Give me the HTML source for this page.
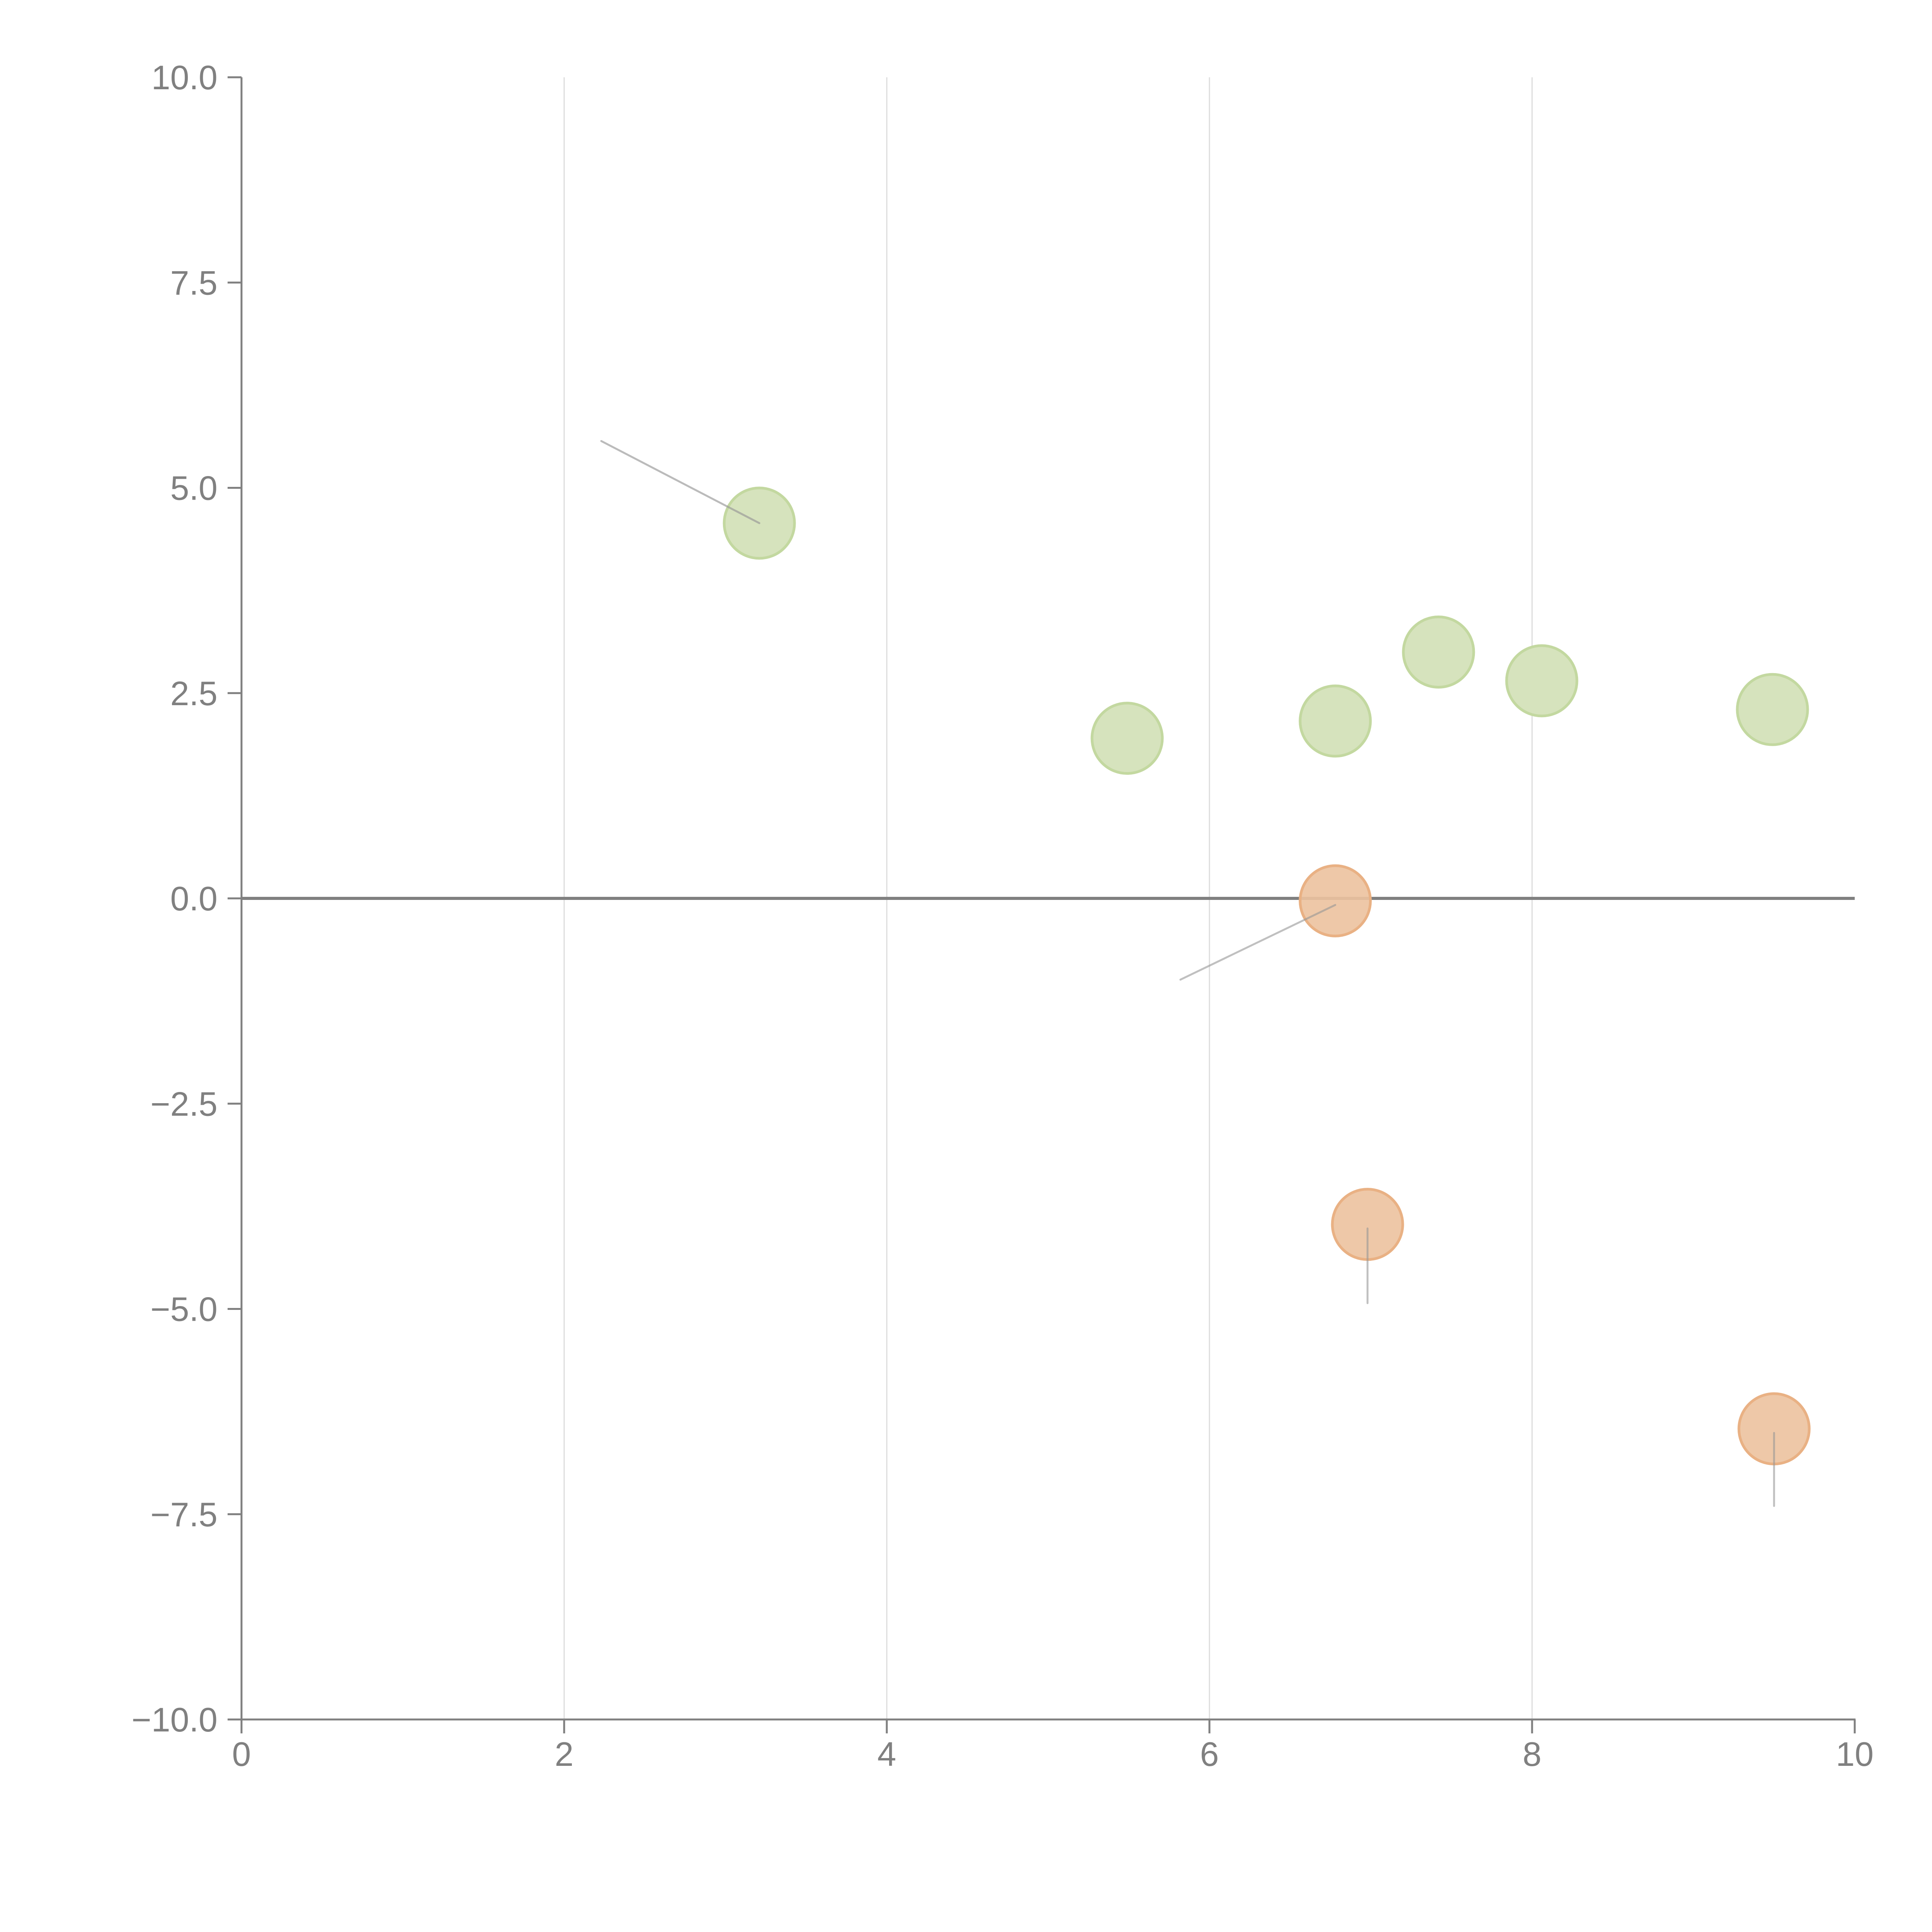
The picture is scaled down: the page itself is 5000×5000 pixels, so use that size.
<!DOCTYPE html>
<html><head><meta charset="utf-8">
<style>
html,body{margin:0;padding:0;background:#fff;}
svg{display:block;}
text{font-family:"Liberation Sans",Arial,sans-serif;}
</style></head>
<body>
<svg id="chart" width="5000" height="5000" viewBox="0 0 5000 5000" xmlns="http://www.w3.org/2000/svg">
<rect width="5000" height="5000" fill="#fff"/>
<g id="grid"></g>
<g id="labels"></g>
<g id="marks"></g>
<g id="axes"></g>
</svg>
<script>
const xTicks = [0, 2, 4, 6, 8, 10];
const xTickLabels = ["0", "2", "4", "6", "8", "10"];
const yTicks = [10, 7.5, 5, 2.5, 0, -2.5, -5, -7.5, -10];
const yTickLabels = ["10.0", "7.5", "5.0", "2.5", "0.0", "\u22122.5", "\u22125.0", "\u22127.5", "\u221210.0"];
const greenX = [3.21, 5.49, 6.78, 7.42, 8.06, 9.49];
const greenY = [4.57, 1.95, 2.16, 3.00, 2.65, 2.30];
const greenLabelX = [2.23, 5.55, 6.95, 7.46, 8.25, 9.30];
const greenLabelY = [5.57, 2.35, 1.85, 3.39, 2.85, 2.10];
const orangeX = [6.78, 6.98, 9.50];
const orangeY = [-0.03, -3.97, -6.46];
const orangeLabelX = [5.82, 6.98, 9.50];
const orangeLabelY = [-0.99, -4.93, -7.40];

const NS = "http://www.w3.org/2000/svg";
const X0 = 625, X1 = 4800, Y0 = 4450, Y1 = 200;
function sx(v){ return X0 + (v - 0) / 10 * (X1 - X0); }
function sy(v){ return Y0 - (v + 10) / 20 * (Y0 - Y1); }
function mk(tag, attrs, parent){
  const el = document.createElementNS(NS, tag);
  for (const k in attrs) el.setAttribute(k, attrs[k]);
  parent.appendChild(el);
  return el;
}
const grid = document.getElementById("grid");
const labels = document.getElementById("labels");
const marks = document.getElementById("marks");
const axes = document.getElementById("axes");

xTicks.forEach(function(t){
  if (t === 0 || t === 10) return;
  const l = mk("line", {x1: sx(t), x2: sx(t), y1: Y1, y2: Y0, stroke: "#dcdcdc", "stroke-width": 3}, grid);
  
  
});

const zl = mk("line", {x1: X0, x2: X1, y1: sy(0), y2: sy(0), stroke: "#808080", "stroke-width": 8}, marks);



function connector(px, py, lx, ly, color, name){
  const l = mk("line", {x1: sx(px), y1: sy(py), x2: sx(lx), y2: sy(ly), stroke: color, "stroke-width": 5, "stroke-linecap": "round"}, marks);
  
  
}
function label(lx, ly, name){
  const t = mk("text", {x: sx(lx), y: sy(ly), fill: "#ffffff", "font-size": 84, "text-anchor": "middle"}, labels);
  t.textContent = "\u00b7";
  
  
}

greenX.forEach(function(v, i){
  const c = mk("circle", {cx: sx(v), cy: sy(greenY[i]), r: 91, fill: "#d6e3bd", stroke: "#c3d8a0", "stroke-width": 7}, marks);
  
  
  if (i === 0) connector(v, greenY[i], greenLabelX[i], greenLabelY[i], "rgba(150,150,150,0.65)", 'green-connector-' + (i + 1));
  label(greenLabelX[i], greenLabelY[i], 'green-label-' + (i + 1));
});

orangeX.forEach(function(v, i){
  const c = mk("circle", {cx: sx(v), cy: sy(orangeY[i]), r: 91, fill: "rgba(236,194,158,0.9)", stroke: "#e9b184", "stroke-width": 7}, marks);
  
  
  connector(v, orangeY[i] - 0.05, orangeLabelX[i], orangeLabelY[i], "rgba(150,150,150,0.6)", 'orange-connector-' + (i + 1));
  label(orangeLabelX[i], orangeLabelY[i], 'orange-label-' + (i + 1));
});

const ya = mk("line", {x1: X0, x2: X0, y1: Y1, y2: Y0 + 2, stroke: "#808080", "stroke-width": 5}, axes);


const xa = mk("line", {x1: X0 - 2, x2: X1 + 2, y1: Y0, y2: Y0, stroke: "#808080", "stroke-width": 5}, axes);



yTicks.forEach(function(t, i){
  const tk = mk("line", {x1: X0 - 36, x2: X0, y1: sy(t), y2: sy(t), stroke: "#808080", "stroke-width": 5}, axes);
  
  
  const tx = mk("text", {x: X0 - 62, y: sy(t) + 31, fill: "#808080", "font-size": 88, "text-anchor": "end"}, axes);
  tx.textContent = yTickLabels[i];
  
  
});
xTicks.forEach(function(t, i){
  const tk = mk("line", {x1: sx(t), x2: sx(t), y1: Y0, y2: Y0 + 36, stroke: "#808080", "stroke-width": 5}, axes);
  
  
  const tx = mk("text", {x: sx(t), y: Y0 + 120, fill: "#808080", "font-size": 88, "text-anchor": "middle"}, axes);
  tx.textContent = xTickLabels[i];
  
  
});
</script>
</body></html>
